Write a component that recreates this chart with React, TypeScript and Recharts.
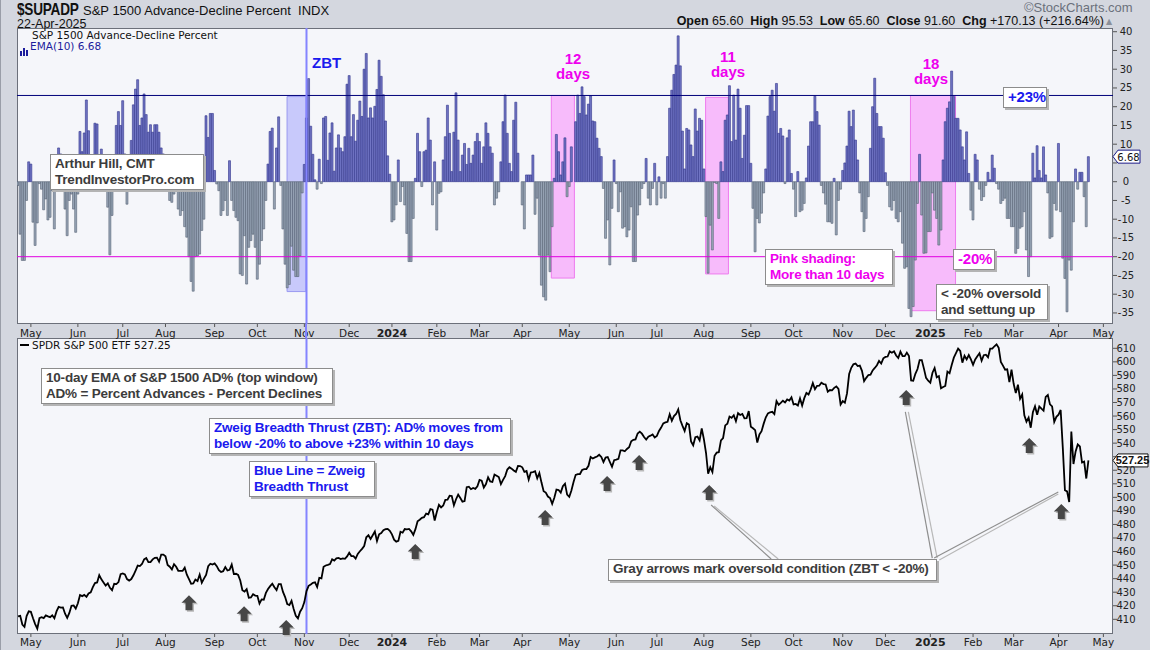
import React from "react";
import {
  BarChart,
  Bar,
  Cell,
  LineChart,
  Line,
  XAxis,
  YAxis,
  ReferenceLine,
  ReferenceArea,
  ReferenceDot,
} from "recharts";

// 10-day EMA of S&P 1500 AD%, one value per trading day (21-Apr-2023 .. 22-Apr-2025)
const adEma2023 = [
  -1, -14, -21, -21, -5, 5.3, 4.7, -10.8, -17, -11,
  -0.5, -2, -7.5, -4.6, -10.2, -9.5, -2.4, -12.6, -1, 9,
  7.4, 3, -7.3, -14.4, -5, -3.3, -7.3, -13.5, -3.3, 13.4,
  8, 13, 21.8, 13.6, 5, 3, 15.6, 15.4, 5, 8.7,
  2, -1, -6.8, -19.5, -9, 4, 15, 18.7, 15, 21.6,
  7.4, -6, 3, 11, 20.5, 24.7, 27.2, 15, 17, 23.4,
  17.9, 13.2, 15.2, 13.2, 15.2, 15.2, 13.2, 9, 7.4, 3,
  -1, -5, -5.5, -3.3, -2.4, -7.3, -9, -7.7, -12, -14.8,
  -20, -26.6, -29.2, -20, -19.8, -19.3, -13, -10, 17.6, 11.8,
  18.2, 18.2, 3, -0.6, -2.4, -9, -7.7, -5, -9, 5.6,
  -5, -7.7, -9.5, -10.4, -24.6, -25, -14.4, -27.3, -17.5, -15.7,
  -14, -17.5, -26, -22, -15.7, -12.6, -5, 4.7, 13.4, 14.3,
  -7.3, 9, 17.3, -1, -12.6, -22, -28.3, -27.4, -17.2, -23.6,
  -25.3, -25.3, -19.8, -3, 4.6, 17, 27.5, 14.8, 7.3, 0.5,
  -2, 6, -0.5, 17, 17.4, 5.7, 13, 15.7, 2.8, 9,
  12.5, 9, 8, 12, 26, 28.3, 12, 17.9, 10.8, 16.4,
  21.5, 17.4, 30, 34.2, 17, 19.7, 17, 20.1, 24.6, 32.4,
  28.1, 23.2, 16.2, 6.9, 2,
];
const adEma2024 = [
  -10.7, -10.2, -6.2, 5.8, -5.3, -1.3, -6.2, -13.8, -21.3, -21.3,
  -9.8, 0.9, 12.9, 8, -1.3, 8, 8.4, 17, 11.1, -6.2,
  5.3, -12.9, -3.1, -2.7, 5.8, 12, 20.4, 12.9, 2.7, 13.2,
  23.7, 11.1, 2.7, 7.1, 10.2, 4.6, 8.9, 4.9, 7.1, 10.7,
  12.9, 10.7, 4.9, 9.3, 15.7, 12.9, 9.3, 7.6, -6.2, -4.4,
  -2.7, 5.3, 16, 23.1, 12.9, 4.9, 2.7, 16.4, 21.2, 7.6,
  0, -6.2, -12.6, 1.8, 1.8, 1.8, 7.1, -8.7, -4.4, -19.6,
  -27.6, -30.7, -31.6, -19.6, -24, -12, 0.9, 12.6, 8, 1.8,
  5.3, 11.7, -4, -1.3, 9.3, 0, 16, 23.1, 18.2, 25.3,
  22.7, 17.8, 20.7, 22.9, 16.2, 16, 11.6, 8.9, 6.7, -1.8,
  -15.1, -10.2, -22.2, -7.1, 5.8, -0.5, -8, -2.7, -12.4, -12,
  -14.7, -12.9, -6.7, -21.3, -21.3, -8.9, -6.2, -1.8, -0.5, 6.2,
  -4.4, -6.2, -1.8, 4.9, -6.2, 1.3, -4.4, -0.5, -4.4, 6.7,
  19.6, 24.4, 28.6, 31.1, 38.9, 30.9, 13.5, 3.4, 14.2, 13.8,
  9.8, 6.7, 19.4, 13.5, 16.9, 16.4, 3.4, -9.3, -24.4, -11.6,
  -18.2, -0.2, -0.5, -9.8, 5.3, 2.7, 16.4, 17.8, 25.6, 10.7,
  23.1, 11.1, 24.7, 19.6, 6.2, 12.4, 20.3, 20.3, 4.9, -7.1,
  -18.7, -9.8, -11, -8.4, -3, 3.4, 17.5, 22.7, 24.4, 18.8,
  26.2, 12.9, 14.2, 12.2, -0.5, 11.7, 13.8, 2.2, -2, -9.3,
  2.7, -8, -7.6, -5.8, 1, 9.5, 16, 16, 22.8, 18.7,
  15.1, -1, -3, -6, -10.7, -10.7, -11.1, 0.9, -14.2, -5,
  -2, 3, 5, 9.5, 18.8, 14.7, 19.1, 11.1, 5.8, -3,
  -8, -13.3, -9.8, -4, 8.9, 20, 27.6, 18.2, 14.7, 14.7,
  11.6, 2.4, -1, -6.7, -7.6, -5, -9.8, -10.7, -8, -16.4,
  -23.1, -22.7, -33.8, -36, -33.3, -20.9, -5.8, 7.3, -8.9, -19.1,
  -19, -13.3,
];
const adEma2025 = [
  -13.3, -3, -7.6, -9.8, -16.9, -12.9, 5.8, 16, 19.6, 21.3,
  29.5, 22.7, 16.9, 16.9, 13.8, 9.3, 5.8, 13.3, 2.2, -7.6,
  -10.2, 7.3, 5.8, -2, -5, -4, -1, 2.5, 0.5, 7.1,
  3.6, -0.5, -2, -5.8, -5, -4.4, -9.8, -9.8, -12, -12,
  -19.1, -17.8, -12.4, -12, -8, -18.2, -25.3, -20, 7.6, 1,
  9.6, 3, 1, 9.3, 1.8, -3, -15.1, -14.7, -5.8, -7.6,
  10.2, -8, -20.4, -25.8, -34.7, -20.9, -23.6, -10.7, 3.4, -2,
  2.5, 2.5, -4, -12, 6.68,
];

// SPDR S&P 500 ETF close, same trading days
const spy2023 = [
  412.2, 412.6, 406.1, 404.4, 412.4, 415.9,
  415.5, 410.8, 406.5, 403.1, 410.8, 411.6, 410.9, 412.9, 412.2, 411.6,
  413.0, 410.8, 415.8, 419.2, 418.6, 418.8, 414.1, 411.1, 414.7, 420.0, 420.2, 417.9,
  421.8, 427.9, 427.1, 428.0, 426.6, 429.1, 429.9, 433.8, 436.7, 437.2,
  442.6, 439.5, 437.2, 434.9, 436.5, 433.2, 431.4, 436.2, 436.0, 437.5, 443.3,
  443.8, 443.1, 439.7, 438.6, 439.7, 442.5, 446.0, 449.6, 449.3, 450.8,
  454.2, 455.2, 452.2, 452.2, 454.2, 455.4, 455.5, 452.5, 457.8, 457.8,
  456.5, 450.1, 448.8, 446.8, 450.7, 448.8, 445.8, 445.7, 445.7, 448.1,
  442.9, 439.6, 436.3, 436.5, 439.3, 438.2, 443.0, 437.0, 440.0, 442.8, 449.2, 451.0, 450.4,
  451.2, 449.2, 446.2, 444.9, 445.5, 448.5, 446.0, 446.5, 450.4, 443.4,
  443.6, 442.7, 438.6, 431.4, 430.4, 432.2, 425.9, 426.1, 428.5, 427.5,
  427.3, 421.6, 424.7, 424.5, 429.5, 432.3, 434.5, 436.3, 433.7, 431.5,
  436.0, 436.0, 430.2, 426.4, 421.2, 420.5, 423.6, 417.6, 412.6, 410.7, 415.6, 418.2,
  422.7, 430.8, 434.7, 435.7, 436.9, 437.3, 433.8, 440.6, 440.2, 448.7,
  449.7, 450.2, 450.8, 454.3, 453.3, 455.0, 455.3, 454.5, 454.9, 454.6, 456.4,
  459.1, 456.7, 456.6, 454.8, 458.2, 460.2, 462.0, 464.1, 470.5, 472.0,
  469.3, 472.0, 474.8, 467.7, 472.7, 473.7, 475.7, 476.5, 476.7, 475.3,
];
const spy2024 = [
  472.7, 468.8, 467.3, 467.9, 474.6, 473.9, 476.6, 476.4, 476.7, 474.9,
  472.3, 476.5, 482.4, 483.5, 484.9, 485.4, 488.0, 487.4, 491.3, 490.9, 482.9,
  489.2, 494.4, 492.6, 494.0, 498.1, 498.3, 501.2, 501.0, 494.1, 498.6,
  502.0, 499.5, 496.8, 497.2, 507.5, 507.9, 506.0, 506.9, 506.3, 508.1,
  512.9, 512.3, 507.2, 509.8, 514.8, 511.7, 511.3, 516.8, 516.0, 515.0,
  509.8, 512.9, 515.7, 520.5, 522.2, 521.2, 519.8, 518.8, 523.2, 523.1,
  522.2, 518.8, 519.4, 513.1, 518.4, 518.7, 519.3, 514.1, 518.0, 510.9,
  504.5, 503.5, 500.6, 499.5, 495.2, 499.7, 505.7, 505.4, 503.5, 508.3, 510.1, 502.0,
  500.4, 505.0, 511.3, 516.6, 517.1, 517.2, 520.2, 520.8, 520.9, 523.3,
  529.8, 528.7, 529.5, 530.1, 531.4, 529.8, 526.0, 529.4, 529.8, 526.1, 522.6, 527.4,
  527.8, 528.4, 534.7, 534.7, 534.0, 535.7, 537.0, 541.4, 542.5, 542.8,
  547.1, 548.5, 547.0, 544.5, 542.7, 544.8, 545.5, 546.4, 544.2,
  545.3, 549.0, 551.5, 554.6, 555.3, 555.8, 561.3, 556.5, 560.0, 561.5,
  564.9, 556.9, 552.7, 549.0, 554.7, 553.8, 541.2, 538.4, 544.4, 544.8, 542.0, 550.8,
  543.0, 532.9, 517.4, 522.2, 518.7, 530.7, 533.0, 533.3, 542.0, 543.8,
  553.1, 554.3, 559.6, 558.7, 560.6, 556.2, 562.1, 560.8, 561.6, 558.3, 558.4, 563.7,
  552.1, 551.0, 549.6, 540.4, 546.4, 548.8, 554.4, 559.1, 562.0, 562.8,
  563.1, 561.4, 571.0, 568.3, 569.7, 571.3, 570.0, 572.3, 571.5, 573.8,
  568.6, 568.9, 567.8, 573.0, 567.8, 573.2, 577.1, 575.9, 579.6, 584.3,
  579.8, 582.3, 582.4, 584.6, 583.6, 583.3, 578.0, 579.2, 579.0, 580.8, 581.8, 580.0, 568.6,
  571.0, 569.8, 576.7, 591.0, 595.6, 598.2, 598.8, 596.9, 597.2, 593.4,
  585.8, 588.2, 590.3, 590.5, 593.7, 595.5, 597.5, 600.7, 598.8, 602.6,
  603.6, 603.9, 607.7, 606.7, 607.8, 604.7, 602.8, 607.5, 604.3, 604.2,
  606.8, 604.3, 586.3, 586.1, 591.2, 594.7, 601.3, 601.3, 595.0, 588.2, 586.1,
];
const spy2025 = [
  584.6, 592.0, 595.4, 588.6, 589.5, 580.5, 581.4, 582.2, 592.8, 591.6,
  597.6, 603.1, 606.4, 609.8, 608.0, 599.4, 604.5, 601.8, 605.0, 601.8,
  597.8, 601.8, 604.2, 606.3, 600.8, 604.9, 605.3, 603.4, 609.7, 609.7,
  611.5, 612.9, 610.4, 600.0, 597.2, 594.2, 594.5, 585.1, 594.2,
  583.8, 576.9, 583.1, 572.7, 575.9, 560.6, 555.9, 558.9, 551.4, 562.8,
  567.2, 561.0, 567.1, 565.5, 564.0, 574.1, 575.5, 568.6, 567.1, 555.7, 559.4,
  561.0, 564.5, 536.7, 505.3, 504.4, 496.5, 548.6, 524.6, 533.9, 539.1,
  537.6, 525.7, 526.4, 513.9, 527.25,
];

// first trading day of each month (index) and its label
const monthTickIdx = [6, 28, 49, 69, 92, 112, 134, 155, 175, 196, 216, 236, 258, 280, 299, 321, 343, 363, 386, 406, 427, 447, 466, 487, 508];
const monthTickLabel = ["May", "Jun", "Jul", "Aug", "Sep", "Oct", "Nov", "Dec", "2024", "Feb", "Mar", "Apr", "May", "Jun", "Jul", "Aug", "Sep", "Oct", "Nov", "Dec", "2025", "Feb", "Mar", "Apr", "May"];
const adTicks = [40, 35, 30, 25, 20, 15, 10, 5, 0, -5, -10, -15, -20, -25, -30, -35];
const spyTicks = [410, 420, 430, 440, 450, 460, 470, 480, 490, 500, 510, 520, 530, 540, 550, 560, 570, 580, 590, 600, 610];

// annotations (trading-day index / value)
const zbtIndex = 135;
const zbtWindow = { x1: 125.9, x2: 134.7, y1: -29.3, y2: 22.7 };
const pinkWindows = [
  { x1: 249.6, x2: 260.4, y1: -25.7, y2: 23 },
  { x1: 321.8, x2: 332.5, y1: -24.6, y2: 22.5 },
  { x1: 417.7, x2: 438.8, y1: -34.4, y2: 23 },
];
const oversoldArrows = [
  { i: 80, p: 427.8 }, { i: 105.8, p: 419.7 }, { i: 125.5, p: 409.4 },
  { i: 185.9, p: 465.6 }, { i: 246.7, p: 490.7 }, { i: 275.7, p: 515.8 },
  { i: 290.7, p: 531.3 }, { i: 323.5, p: 509.1 }, { i: 415.7, p: 579.2 },
  { i: 473.3, p: 543.8 }, { i: 488.3, p: 495.1 },
];
const callouts = [
  [{ x: 324.4, y: 494.4 }, { x: 352.5, y: 454.5 }],
  [{ x: 325.8, y: 493.6 }, { x: 355.8, y: 454.5 }],
  [{ x: 415.3, y: 563.0 }, { x: 427.9, y: 455.2 }],
  [{ x: 416.7, y: 563.0 }, { x: 430.2, y: 455.2 }],
  [{ x: 486.9, y: 504.0 }, { x: 428.8, y: 455.2 }],
  [{ x: 486.9, y: 502.5 }, { x: 431.2, y: 453.8 }],
];

const adEma = [...adEma2023, ...adEma2024, ...adEma2025];
const spyClose = [...spy2023, ...spy2024, ...spy2025];
const lastIdx = adEma.length - 1;
const topData = adEma.map((v, i) => ({ i, v }));
const spyData = spyClose.map((c, i) => ({ i, c }));

const X_DOMAIN: [number, number] = [-0.5, 512.5];
const AD_DOMAIN: [number, number] = [-37.95, 40.99];
const SPY_DOMAIN: [number, number] = [399.15, 617.6];
const PLOT_L = 16;
const PLOT_R = 1112;
const PLOT_H = 296;
const BG = "#d4d7df";
const PLOT_BG = "#f5f6fa";
const MAGENTA = "#ee00ee";
const BLUE_TXT = "#1a1aee";
const AXIS_FONT = "'DejaVu Sans', Verdana, sans-serif";
const BOX_FONT = "'Liberation Sans', Arial, sans-serif";

const MonthTick = (props: any) => {
  const { x, y, payload } = props;
  const label = monthTickLabel[monthTickIdx.indexOf(payload.value)];
  const isYear = /^\d{4}$/.test(label || "");
  return (
    <text x={x} y={y} dy={8} textAnchor="middle" fontSize={isYear ? 11 : 10.5} fontWeight={isYear ? 700 : 400} fontFamily={AXIS_FONT} fill="#222">
      {label}
    </text>
  );
};

// right-axis label; a label hidden behind the last-value tag is not drawn
const makeRightTick = (tagValue: number, domain: [number, number]) => (props: any) => {
  const { x, y, payload } = props;
  const pxPerUnit = PLOT_H / (domain[1] - domain[0]);
  if (Math.abs(payload.value - tagValue) * pxPerUnit < 7) return <g />;
  return (
    <text x={x + 7} y={y} dy={3.5} textAnchor="middle" fontSize={10} fontFamily={AXIS_FONT} fill="#222">
      {payload.value}
    </text>
  );
};

const UpArrow = (props: any) => {
  const { cx, cy } = props;
  const d = `M${cx},${cy} L${cx + 7.5},${cy + 7.5} L${cx + 3.5},${cy + 7.5} L${cx + 3.5},${cy + 15} L${cx - 3.5},${cy + 15} L${cx - 3.5},${cy + 7.5} L${cx - 7.5},${cy + 7.5} Z`;
  return (
    <g>
      <path d={d} transform="translate(1.5,1.5)" fill="#b8b8b8" />
      <path d={d} fill="#474747" />
    </g>
  );
};

const valueTag = (text: string, stroke: string, w: number, bold: boolean) => (props: any) => {
  const { cx, cy } = props;
  const d = `M${cx},${cy} L${cx + 5},${cy - 6.5} L${cx + w},${cy - 6.5} L${cx + w},${cy + 6.5} L${cx + 5},${cy + 6.5} Z`;
  return (
    <g>
      <path d={d} fill="#fff" stroke={stroke} strokeWidth={1} />
      <text
        x={cx + 4 + (w - 4) / 2}
        y={cy + 4}
        textAnchor="middle"
        fontSize={bold ? 11 : 10}
        fontWeight={bold ? 700 : 400}
        fontFamily={bold ? BOX_FONT : AXIS_FONT}
        fill="#111"
      >
        {text}
      </text>
    </g>
  );
};

const Box = ({ left, top, width, height, color, lines, size = 13 }: any) => (
  <div
    style={{
      position: "absolute",
      left,
      top,
      width,
      height,
      boxSizing: "border-box",
      background: "#fff",
      border: "1px solid #8c8c8c",
      boxShadow: "2px 2px 0 #b4b4b4",
      fontFamily: BOX_FONT,
      fontWeight: 700,
      fontSize: size,
      lineHeight: "16px",
      color,
      padding: "1px 4px",
      whiteSpace: "nowrap",
      letterSpacing: -0.2,
    }}
  >
    {lines.map((l: string, k: number) => (
      <div key={k}>{l}</div>
    ))}
  </div>
);

const Txt = ({ left, top, children, style }: any) => (
  <div style={{ position: "absolute", left, top, whiteSpace: "nowrap", ...style }}>{children}</div>
);

const bw = (PLOT_R - PLOT_L) / (X_DOMAIN[1] - X_DOMAIN[0]);
const zbtPx = PLOT_L + (zbtIndex - X_DOMAIN[0]) * bw;
const AdTick = makeRightTick(adEma[lastIdx], AD_DOMAIN);
const SpyTick = makeRightTick(spyClose[lastIdx], SPY_DOMAIN);

export default function App() {
  return (
    <div style={{ position: "absolute", left: 0, top: 0, width: 1150, height: 650, background: BG, overflow: "hidden", borderLeft: "1px solid #9a9ea8", boxSizing: "border-box" }}>
      {/* plot frames */}
      <div style={{ position: "absolute", left: PLOT_L, top: 28, width: PLOT_R - PLOT_L, height: PLOT_H, background: PLOT_BG, border: "1px solid #6c707a", boxSizing: "border-box" }} />
      <div style={{ position: "absolute", left: PLOT_L, top: 338, width: PLOT_R - PLOT_L, height: PLOT_H, background: PLOT_BG, border: "1px solid #6c707a", boxSizing: "border-box" }} />

      {/* header */}
      <Txt left={16} top={1} style={{ fontFamily: BOX_FONT, fontWeight: 700, fontSize: 17, lineHeight: "17px", color: "#111", transform: "scaleX(0.8)", transformOrigin: "left top", letterSpacing: -0.3 }}>$SUPADP</Txt>
      <Txt left={82} top={3} style={{ fontFamily: BOX_FONT, fontSize: 13, lineHeight: "15px", color: "#111" }}>S&amp;P 1500 Advance-Decline Percent&nbsp; INDX</Txt>
      <Txt left={16} top={18} style={{ fontFamily: BOX_FONT, fontSize: 12.5, lineHeight: "13px", color: "#111" }}>22-Apr-2025</Txt>
      <Txt left={1023} top={1} style={{ fontFamily: BOX_FONT, fontSize: 13, lineHeight: "14px", color: "#6b717c" }}>©StockCharts.com</Txt>
      <div style={{ position: "absolute", right: 46, top: 15, fontFamily: BOX_FONT, fontSize: 12.5, lineHeight: "13px", color: "#111", whiteSpace: "nowrap" }}>
        <b>Open</b> 65.60 &nbsp;<b>High</b> 95.53 &nbsp;<b>Low</b> 65.60 &nbsp;<b>Close</b> 91.60 &nbsp;<b>Chg</b> +170.13 (+216.64%)
      </div>
      <Txt left={1105} top={17} style={{ fontSize: 8, lineHeight: "9px", color: "#8a8f99", fontFamily: AXIS_FONT }}>▲</Txt>

      {/* top panel: AD% EMA histogram */}
      <div style={{ position: "absolute", left: 0, top: 0 }}>
        <BarChart width={1150} height={345} data={topData} margin={{ top: 28, right: 0, left: PLOT_L, bottom: 0 }}>
          <XAxis dataKey="i" type="number" domain={X_DOMAIN} ticks={monthTickIdx} interval={0} height={21} axisLine={false} tickSize={3} tickMargin={2} tickLine={{ stroke: "#555" }} tick={<MonthTick />} allowDataOverflow />
          <YAxis orientation="right" type="number" domain={AD_DOMAIN} ticks={adTicks} interval={0} width={38} axisLine={false} tickSize={4} tickMargin={2} tickLine={{ stroke: "#555" }} tick={<AdTick />} allowDataOverflow />
          <Bar dataKey="v" barSize={2} isAnimationActive={false} strokeWidth={0.6}>
            {topData.map((d) => (
              <Cell key={d.i} fill={d.v >= 0 ? "#7175c4" : "#98a5b6"} stroke={d.v >= 0 ? "#30348c" : "#566274"} />
            ))}
          </Bar>
          <ReferenceArea x1={zbtWindow.x1} x2={zbtWindow.x2} y1={zbtWindow.y1} y2={zbtWindow.y2} fill="#6060ff" fillOpacity={0.3} stroke="#9a9af0" strokeOpacity={1} ifOverflow="visible" />
          {pinkWindows.map((w, k) => (
            <ReferenceArea key={k} x1={w.x1} x2={w.x2} y1={w.y1} y2={w.y2} fill="#ff00ff" fillOpacity={0.24} stroke="#ee7cee" strokeOpacity={1} ifOverflow="visible" />
          ))}
          <ReferenceLine y={23} stroke="#00007a" strokeWidth={1} />
          <ReferenceLine y={-20} stroke="#e000e0" strokeWidth={1} />
          <ReferenceLine x={zbtIndex} stroke="#8484ff" strokeWidth={2} />
          <ReferenceDot x={X_DOMAIN[1]} y={adEma[lastIdx]} r={0} ifOverflow="visible" shape={valueTag(String(adEma[lastIdx]), "#1b1b88", 27, false)} />
        </BarChart>
      </div>

      {/* ZBT line through the date strip */}
      <div style={{ position: "absolute", left: zbtPx - 1, top: 324, width: 2, height: 14, background: "#8484ff" }} />

      {/* bottom panel: SPY */}
      <div style={{ position: "absolute", left: 0, top: 330 }}>
        <LineChart width={1150} height={320} data={spyData} margin={{ top: 8, right: 0, left: PLOT_L, bottom: 0 }}>
          <XAxis dataKey="i" type="number" domain={X_DOMAIN} ticks={monthTickIdx} interval={0} height={16} axisLine={false} tickSize={3} tickMargin={1} tickLine={{ stroke: "#555" }} tick={<MonthTick />} allowDataOverflow />
          <YAxis orientation="right" type="number" domain={SPY_DOMAIN} ticks={spyTicks} interval={0} width={38} axisLine={false} tickSize={4} tickMargin={2} tickLine={{ stroke: "#555" }} tick={<SpyTick />} allowDataOverflow />
          <ReferenceLine x={zbtIndex} stroke="#8484ff" strokeWidth={2} />
          {callouts.map((seg, k) => (
            <ReferenceLine key={k} segment={seg} stroke={k % 2 === 0 ? "#8e8e8e" : "#b8b8b8"} strokeWidth={1.2} ifOverflow="visible" />
          ))}
          <Line dataKey="c" type="linear" stroke="#000" strokeWidth={1.8} dot={false} isAnimationActive={false} />
          {oversoldArrows.map((a, k) => (
            <ReferenceDot key={k} x={a.i} y={a.p} r={0} ifOverflow="visible" shape={UpArrow} />
          ))}
          <ReferenceDot x={X_DOMAIN[1]} y={spyClose[lastIdx]} r={0} ifOverflow="visible" shape={valueTag(spyClose[lastIdx].toFixed(2), "#111", 35, true)} />
        </LineChart>
      </div>

      {/* panel legends */}
      <Txt left={31} top={29} style={{ fontFamily: AXIS_FONT, fontSize: 10.5, lineHeight: "12px", color: "#111" }}>S&amp;P 1500 Advance-Decline Percent</Txt>
      <div style={{ position: "absolute", left: 19, top: 42, width: 9, height: 8 }}>
        <svg width={9} height={8}>
          <rect x={0} y={3} width={2} height={5} fill="#1c1c9c" />
          <rect x={3} y={0} width={2} height={8} fill="#1c1c9c" />
          <rect x={6} y={2} width={2} height={6} fill="#1c1c9c" />
        </svg>
      </div>
      <Txt left={29} top={40} style={{ fontFamily: AXIS_FONT, fontSize: 10.5, lineHeight: "12px", color: "#1c1c9c" }}>EMA(10) {adEma[lastIdx]}</Txt>
      <div style={{ position: "absolute", left: 19, top: 344, width: 9, height: 2, background: "#000" }} />
      <Txt left={31} top={339} style={{ fontFamily: AXIS_FONT, fontSize: 10.5, lineHeight: "12px", color: "#111" }}>SPDR S&amp;P 500 ETF {spyClose[lastIdx].toFixed(2)}</Txt>

      {/* top panel annotations */}
      <Txt left={311} top={54} style={{ fontFamily: BOX_FONT, fontWeight: 700, fontSize: 15, lineHeight: "17px", color: BLUE_TXT }}>ZBT</Txt>
      {[
        { c: 572, t: 51, n: "12" },
        { c: 727, t: 49, n: "11" },
        { c: 930, t: 56, n: "18" },
      ].map((p) => (
        <div key={p.n} style={{ position: "absolute", left: p.c - 30, top: p.t, width: 60, textAlign: "center", fontFamily: BOX_FONT, fontWeight: 700, fontSize: 15, lineHeight: "15px", color: MAGENTA }}>
          {p.n}
          <br />
          days
        </div>
      ))}
      <Box left={49} top={154} width={154} height={36} color="#3c3c3c" size={13.5} lines={["Arthur Hill, CMT", "TrendInvestorPro.com"]} />
      <Box left={1002} top={87} width={44} height={21} color={BLUE_TXT} size={15} lines={["+23%"]} />
      <Box left={952} top={249} width={42} height={21} color={MAGENTA} size={15} lines={["-20%"]} />
      <Box left={764} top={249} width={128} height={36} color={MAGENTA} size={13.5} lines={["Pink shading:", "More than 10 days"]} />
      <Box left={935} top={284} width={112} height={36} color="#3c3c3c" size={13.5} lines={["< -20% oversold", "and settung up"]} />

      {/* bottom panel annotations */}
      <Box left={40} top={368} width={292} height={36} color="#3c3c3c" size={13.5} lines={["10-day EMA of S&P 1500 AD% (top window)", "AD% = Percent Advances - Percent Declines"]} />
      <Box left={208} top={418} width={302} height={36} color={BLUE_TXT} size={13.5} lines={["Zweig Breadth Thrust (ZBT): AD% moves from", "below -20% to above +23% within 10 days"]} />
      <Box left={248} top={461} width={126} height={36} color={BLUE_TXT} size={13.5} lines={["Blue Line = Zweig", "Breadth Thrust"]} />
      <Box left={607} top={559} width={329} height={22} color="#3c3c3c" size={13.5} lines={["Gray arrows mark oversold condition (ZBT <  -20%)"]} />
    </div>
  );
}
